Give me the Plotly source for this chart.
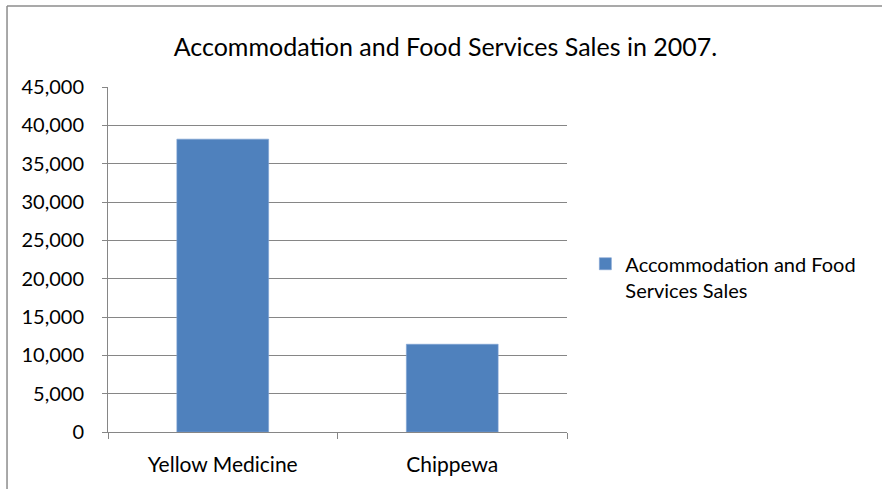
import plotly.graph_objects as go

# data
counties = ["Yellow Medicine", "Chippewa"]
sales = [38200, 11450]
series_name = "Accommodation and Food Services Sales"
title_text = "Accommodation and Food Services Sales in 2007."

bar_color = "#4f81bd"
grid_color = "#868686"
font_family = "Lato, Carlito, Calibri, sans-serif"

fig = go.Figure()

fig.add_trace(go.Bar(
    x=counties,
    y=sales,
    name="Accommodation and Food<br>Services Sales",
    marker=dict(color=bar_color, line=dict(color="#7fa3d4", width=0.6)),
    hoverinfo="x+y",
))

fig.update_layout(
    width=882,
    height=489,
    paper_bgcolor="white",
    plot_bgcolor="white",
    font=dict(family=font_family, size=19, color="black"),
    title=dict(
        text=title_text,
        x=0.505,
        xanchor="center",
        y=0.904,
        yanchor="middle",
        font=dict(size=25, family=font_family, color="black"),
    ),
    margin=dict(l=108, r=315, t=87, b=57),
    bargap=0.6,
    showlegend=True,
    legend=dict(
        x=1.04,
        y=0.45,
        xanchor="left",
        yanchor="middle",
        valign="top",
        font=dict(size=20, family=font_family),
        bgcolor="rgba(0,0,0,0)",
    ),
    xaxis=dict(
        type="category",
        tickson="boundaries",
        ticks="outside",
        ticklen=6,
        tickcolor=grid_color,
        showline=True,
        linecolor=grid_color,
        linewidth=1,
        showgrid=False,
        tickfont=dict(size=21),
        ticklabelstandoff=14,
    ),
    yaxis=dict(
        range=[0, 45000],
        tickvals=list(range(0, 45001, 5000)),
        tickformat=",d",
        ticks="outside",
        ticklen=5,
        tickcolor=grid_color,
        showline=True,
        linecolor=grid_color,
        linewidth=1,
        showgrid=True,
        gridcolor=grid_color,
        gridwidth=1,
        zeroline=False,
        tickfont=dict(size=20),
        ticklabelstandoff=14,
    ),
)

# outer chart border (top and left edges visible in the reference)
fig.add_shape(type="line", xref="paper", yref="paper",
              x0=-0.22, x1=1.7, y0=1.235, y1=1.235,
              line=dict(color="#8c8c8c", width=1.5))
fig.add_shape(type="line", xref="paper", yref="paper",
              x0=-0.22, x1=-0.22, y0=1.235, y1=-0.2,
              line=dict(color="#8c8c8c", width=1.5))

fig.write_html("out.html", config={"displayModeBar": False},
               post_script="document.body.style.margin='0px';")
